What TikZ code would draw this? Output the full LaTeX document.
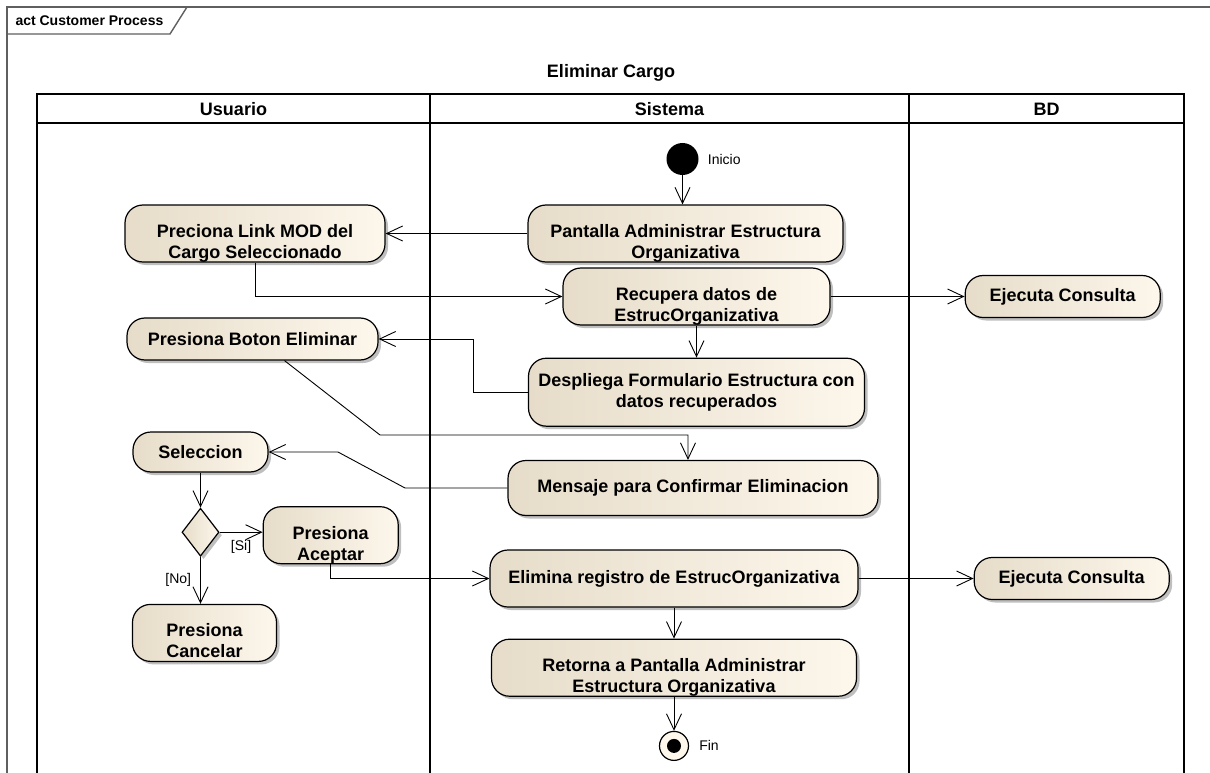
\documentclass[tikz,border=0pt]{standalone}
\usepackage{fontspec}
\setmainfont{Liberation Sans}
\usetikzlibrary{positioning, arrows.meta, shapes.geometric, shadows}
\definecolor{actleft}{RGB}{230,220,201}
\definecolor{actright}{RGB}{253,247,236}
\definecolor{framegray}{RGB}{95,95,95}
\newcommand{\actfont}{\fontsize{18}{21}\selectfont\bfseries}
\newcommand{\notefont}{\fontsize{14}{16}\selectfont}
% two lines set low in the box, as the modelling tool does
\newcommand{\actlines}[2]{\rule{0pt}{29pt}#1\\\raisebox{0pt}[\height][0pt]{#2}}

\begin{document}
\begin{tikzpicture}[x=1pt, y=1pt, >={Straight Barb[length=16pt,width=15pt]},
    action/.style={draw, line width=1.2pt, rounded corners=18pt, left color=actleft, right color=actright,
      font=\actfont, align=center, inner xsep=2pt, inner ysep=1pt,
      drop shadow={shadow xshift=3pt, shadow yshift=-3pt, opacity=0.25, fill=black}},
    decision/.style={diamond, draw, line width=1.2pt, left color=actleft, right color=actright,
      minimum width=37pt, minimum height=48pt, inner sep=0pt,
      drop shadow={shadow xshift=3pt, shadow yshift=-3pt, opacity=0.25, fill=black}},
    initial/.style={circle, fill=black, minimum size=32pt, inner sep=0pt},
    final/.style={circle, draw, line width=1.2pt, fill=actright, minimum size=29pt, inner sep=0pt},
    flow/.style={->, line width=0.9pt},
    lane/.style={line width=1.6pt},
    guard/.style={font=\notefont, inner sep=1pt}]
  \useasboundingbox (0,0) rectangle (1210,-773);

  \draw[framegray, line width=1.4pt] (7,-773) -- (7,-7) -- (1210,-7);
  \draw[framegray, line width=1.4pt] (7,-34) -- (170,-34) -- (187,-7);
  \node[anchor=west, font=\notefont\bfseries] (frame) at (12,-21) {act Customer Process};

  \node[font=\actfont] (title) at (611,-73) {Eliminar Cargo};
  \draw[lane] (37,-773) |- (1184,-94) -- (1184,-773);
  \draw[lane] (37,-123) -- (1184,-123);
  \draw[lane] (430,-94) -- (430,-773);
  \draw[lane] (909,-94) -- (909,-773);
  \node[font=\actfont] (usuario) at (233.5,-109) {Usuario};
  \node[font=\actfont] (sistema) at (669.5,-109) {Sistema};
  \node[font=\actfont] (bd) at (1046.5,-109) {BD};

  \node[initial, label={[guard, xshift=8pt]right:Inicio}] (start) at (682.5,-159) {};
  \node[action, minimum width=315pt, minimum height=57pt] (pantalla) at (685.5,-233.5) {\actlines{Pantalla Administrar Estructura}{Organizativa}};
  \node[action, minimum width=260pt, minimum height=57pt] (preciona) at (255,-233.5) {\actlines{Preciona Link MOD del}{Cargo Seleccionado}};
  \node[action, minimum width=267pt, minimum height=57pt] (recupera) at (696.5,-296.5) {\actlines{Recupera datos de}{EstrucOrganizativa}};
  \node[action, minimum width=195pt, minimum height=42pt, right=134pt of recupera] (consultaA) {Ejecuta Consulta};
  \node[action, minimum width=251pt, minimum height=42pt] (eliminar) at (252.5,-339) {Presiona Boton Eliminar};
  \node[action, minimum width=336pt, minimum height=68pt, below=32pt of recupera] (despliega) {Despliega Formulario Estructura con\\datos recuperados};
  \node[action, minimum width=370pt, minimum height=55pt] (mensaje) at (693,-488) {Mensaje para Confirmar Eliminacion};
  \node[action, minimum width=135pt, minimum height=40pt] (seleccion) at (200.5,-452) {Seleccion};
  \node[decision, below=35pt of seleccion] (choice) {};
  \node[action, minimum width=135pt, minimum height=57pt, right=43pt of choice, yshift=-3pt] (aceptar) {\actlines{Presiona}{Aceptar}};
  \node[action, minimum width=144pt, minimum height=57pt, below=47pt of choice, xshift=4pt] (cancelar) {\actlines{Presiona}{Cancelar}};
  \node[action, minimum width=368pt, minimum height=57pt] (elimina) at (674,-578.5) {Elimina registro de EstrucOrganizativa};
  \node[action, minimum width=195pt, minimum height=42pt, right=115pt of elimina] (consultaB) {Ejecuta Consulta};
  \node[action, minimum width=365pt, minimum height=57pt, below=31pt of elimina] (retorna) {\actlines{Retorna a Pantalla Administrar}{Estructura Organizativa}};
  \node[final, label={[guard, xshift=9pt]right:Fin}, below=34pt of retorna] (fin) {};
  \fill (fin) circle (7pt);

  \coordinate (kneeA) at (380,-435);
  \coordinate (kneeB) at (405,-488);
  \coordinate (kneeC) at (338,-452);

  \draw[flow] (start) -- (start |- pantalla.north);
  \draw[flow] (pantalla) -- (preciona);
  \draw[flow] (preciona.south) |- (recupera.west);
  \draw[flow] (recupera) -- (consultaA);
  \draw[flow] (recupera) -- (despliega);
  \draw[flow] (despliega.west) -- ++(-54,0) |- (eliminar.east);
  \draw[flow] ([xshift=32pt]eliminar.south) -- (kneeA) -| ([xshift=-5pt]mensaje.north);
  \draw[flow] (mensaje.west) -- (kneeB) -- (kneeC) -- (seleccion.east);
  \draw[flow] (seleccion) -- (choice);
  \draw[flow] (choice.east) -- (choice.east -| aceptar.west) node[guard, midway, below=7pt] {[Si]};
  \draw[flow] (choice.south) -- (choice.south |- cancelar.north) node[guard, midway, left=8pt] {[No]};
  \draw[flow] (aceptar.south) |- (elimina.west);
  \draw[flow] (elimina) -- (consultaB);
  \draw[flow] (elimina) -- (retorna);
  \draw[flow] (retorna) -- (fin);
\end{tikzpicture}
\end{document}
